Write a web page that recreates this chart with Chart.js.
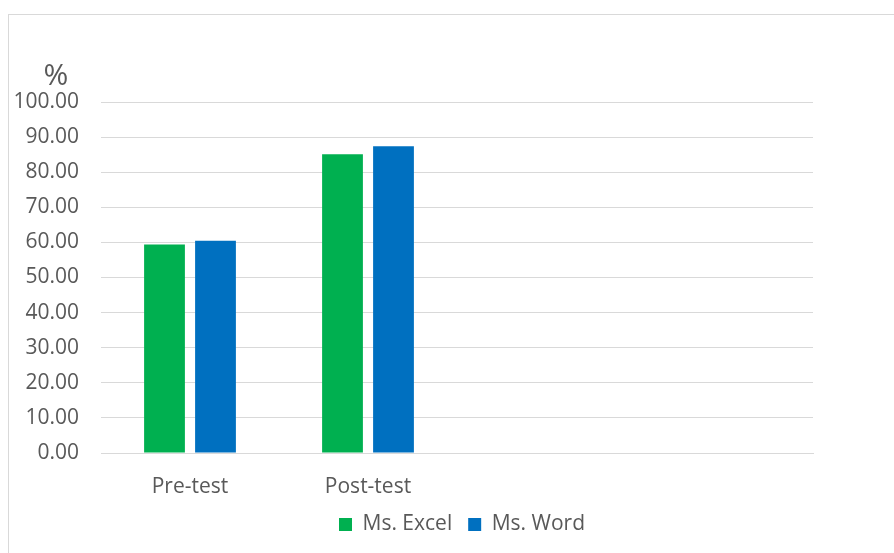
<html lang="en">
<head>
    <meta charset="UTF-8">
    <title>Pre-test / Post-test</title>
    <script src="https://cdn.jsdelivr.net/npm/chart.js"></script>
    <style>
        html, body { margin: 0; padding: 0; background: #fff; overflow: hidden; }
        #box {
            position: absolute; left: 8px; top: 14px;
            width: 886px; height: 539px;
            border-left: 1px solid #d9d9d9; border-top: 1px solid #d9d9d9;
        }
    </style>
</head>
<body>
    <div id="box"><canvas id="testChart"></canvas></div>

    <script>
        // categories (two empty slots on the right, as in the original sheet)
        const categories = ['Pre-test', 'Post-test', '', ''];
        const excelScores = [59.4, 85.1, null, null];
        const wordScores = [60.5, 87.4, null, null];
        const yTicks = [0, 10, 20, 30, 40, 50, 60, 70, 80, 90, 100];

        const textColor = '#595959';
        const gridColor = '#d9d9d9';
        const font = { family: 'Open Sans', size: 21 };

        // "%" unit label above the y axis
        const percentLabel = {
            id: 'percentLabel',
            afterDraw(chart) {
                const c = chart.ctx;
                c.save();
                c.font = '30px "Open Sans"';
                c.fillStyle = textColor;
                c.textAlign = 'center';
                c.textBaseline = 'alphabetic';
                c.fillText('%', chart.chartArea.left - 45, chart.chartArea.top - 17);
                c.restore();
            }
        };

        const ctx = document.getElementById('testChart').getContext('2d');
        new Chart(ctx, {
            type: 'bar',
            data: {
                labels: categories,
                datasets: [{
                    label: 'Ms. Excel',
                    data: excelScores,
                    backgroundColor: '#00b050',
                }, {
                    label: 'Ms. Word',
                    data: wordScores,
                    backgroundColor: '#0070c0',
                }]
            },
            options: {
                responsive: true,
                maintainAspectRatio: false,
                animation: false,
                categoryPercentage: 0.573,
                barPercentage: 0.8,
                // right padding < 0 pushes the legend centre a little to the right
                layout: { padding: { top: 87, right: -20, bottom: 9, left: 0 } },
                plugins: {
                    legend: {
                        position: 'bottom',
                        labels: {
                            color: textColor,
                            font: font,
                            boxWidth: 13,
                            boxHeight: 13,
                            padding: 16,
                        },
                    },
                    tooltip: { enabled: false },
                },
                scales: {
                    x: {
                        grid: { display: false },
                        border: { color: gridColor, width: 1 },
                        ticks: { color: textColor, font: font, padding: 13 },
                        afterFit(scale) { scale.height = 45; },
                    },
                    y: {
                        min: 0,
                        max: 100,
                        afterBuildTicks(scale) { scale.ticks = yTicks.map(v => ({ value: v })); },
                        grid: { color: gridColor, drawTicks: false },
                        border: { display: false },
                        ticks: {
                            color: textColor,
                            font: font,
                            padding: 22,
                            callback: v => v.toFixed(2),
                        },
                        afterFit(scale) { scale.width = 92; },
                    },
                    // empty right-hand margin
                    yRight: {
                        position: 'right',
                        grid: { display: false },
                        border: { display: false },
                        ticks: { display: false },
                        afterFit(scale) { scale.width = 102; },
                    },
                },
            },
            plugins: [percentLabel],
        });
    </script>
</body>
</html>
